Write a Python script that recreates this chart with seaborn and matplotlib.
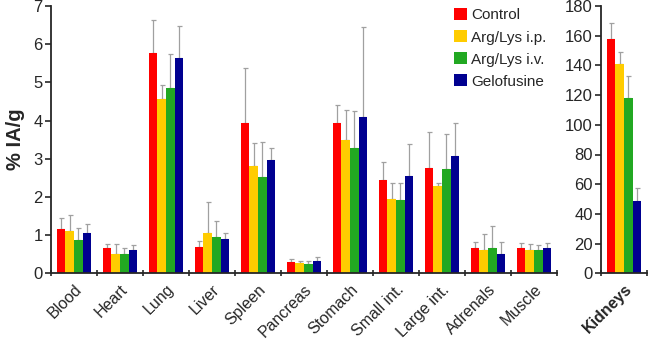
import numpy as np
import pandas as pd
import matplotlib
matplotlib.use("Agg")
import matplotlib.pyplot as plt
import seaborn as sns

sns.set_style("ticks")
plt.rcParams['font.family'] = ['Liberation Sans', 'DejaVu Sans']

organs = ["Blood", "Heart", "Lung", "Liver", "Spleen", "Pancreas", "Stomach",
          "Small int.", "Large int.", "Adrenals", "Muscle"]
groups = ["Control", "Arg/Lys i.p.", "Arg/Lys i.v.", "Gelofusine"]
colors = ["#FF0000", "#FFCC00", "#22A822", "#000090"]

control = [1.17, 0.66, 5.76, 0.70, 3.94, 0.30, 3.94, 2.44, 2.75, 0.65, 0.65]
argip = [1.10, 0.51, 4.57, 1.05, 2.81, 0.27, 3.48, 1.94, 2.29, 0.62, 0.61]
argiv = [0.87, 0.50, 4.84, 0.95, 2.51, 0.25, 3.29, 1.91, 2.72, 0.65, 0.60]
gelo = [1.05, 0.60, 5.63, 0.89, 2.98, 0.32, 4.09, 2.55, 3.06, 0.51, 0.65]

control_top = [1.46, 0.78, 6.63, 0.84, 5.37, 0.37, 4.42, 2.92, 3.70, 0.83, 0.80]
argip_top = [1.52, 0.78, 4.92, 1.87, 3.40, 0.33, 4.28, 2.36, 2.37, 1.04, 0.78]
argiv_top = [1.18, 0.65, 5.73, 1.38, 3.43, 0.33, 4.24, 2.37, 3.66, 1.24, 0.75]
gelo_top = [1.29, 0.73, 6.47, 1.06, 3.27, 0.42, 6.46, 3.39, 3.93, 0.83, 0.80]

kidney = [157.6, 141.0, 117.8, 48.7]
kidney_top = [168.4, 148.8, 132.9, 57.2]

vals = [control, argip, argiv, gelo]
tops = [control_top, argip_top, argiv_top, gelo_top]

rows = []
for g, v, t in zip(groups, vals, tops):
    for o, vv, tt in zip(organs, v, t):
        rows.append({"organ": o, "group": g, "value": vv, "top": tt})
df = pd.DataFrame(rows)
dk = pd.DataFrame({"organ": ["Kidneys"] * 4, "group": groups,
                   "value": kidney, "top": kidney_top})

W, H = 649, 342
fig = plt.figure(figsize=(W / 100, H / 100), dpi=100)
ax = fig.add_axes([51 / W, (H - 273.3) / H, 506 / W, (273.3 - 6) / H])
ax2 = fig.add_axes([601 / W, (H - 273.3) / H, 46 / W, (273.3 - 6) / H])

pal = dict(zip(groups, colors))

def draw(a, d, cats):
    sns.barplot(data=d, x="organ", y="value", hue="group", order=cats,
                hue_order=groups, palette=pal, errorbar=None, width=0.74,
                gap=0, saturation=1, linewidth=0, ax=a)
    for cont, g in zip(a.containers, groups):
        sub = d[d.group == g].set_index("organ").loc[cats]
        xs = [p.get_x() + p.get_width() / 2 for p in cont.patches]
        hs = sub["value"].values
        up = sub["top"].values - hs
        a.errorbar(xs, hs, yerr=[np.zeros_like(up), up], fmt="none",
                   ecolor="#a0a0a0", elinewidth=0.9, capsize=1.8,
                   capthick=0.9, zorder=1)
        for p in cont.patches:
            p.set_zorder(2)

draw(ax, df, organs)
draw(ax2, dk, ["Kidneys"])

for a, n in ((ax, len(organs)), (ax2, 1)):
    a.set_xlim(-0.5, n - 0.5)
    a.set_xlabel("")
    a.spines["top"].set_visible(False)
    a.spines["right"].set_visible(False)
    a.spines["left"].set_linewidth(1.3)
    a.spines["bottom"].set_linewidth(1.3)
    a.set_xticks(np.arange(-0.5, n, 1.0), minor=True)
    a.tick_params(axis="x", which="minor", length=5, width=1.2, direction="inout")
    a.tick_params(axis="x", which="major", length=0, labelsize=11.5, pad=6)
    a.tick_params(axis="y", length=4, width=1.2, direction="out", labelsize=12, pad=2)
    for lab in a.get_xticklabels():
        lab.set_rotation(45)
        lab.set_ha("right")
        lab.set_rotation_mode("anchor")

ax.set_ylim(0, 7)
ax.set_yticks(range(0, 8))
ax2.set_ylim(0, 180)
ax2.set_yticks(range(0, 181, 20))
ax.set_ylabel("% IA/g", fontsize=14.5, fontweight="bold", labelpad=6)
ax2.set_ylabel("")
for lab in ax2.get_xticklabels():
    lab.set_fontweight("bold")
    lab.set_fontsize(11.5)

ax2.get_legend().remove()
leg = ax.legend(loc="upper left", bbox_to_anchor=(0.785, 1.015), frameon=False,
                fontsize=11, handlelength=0.8, handleheight=0.85,
                handletextpad=0.3, labelspacing=0.5, borderaxespad=0)

fig.savefig("out.png", dpi=100)
